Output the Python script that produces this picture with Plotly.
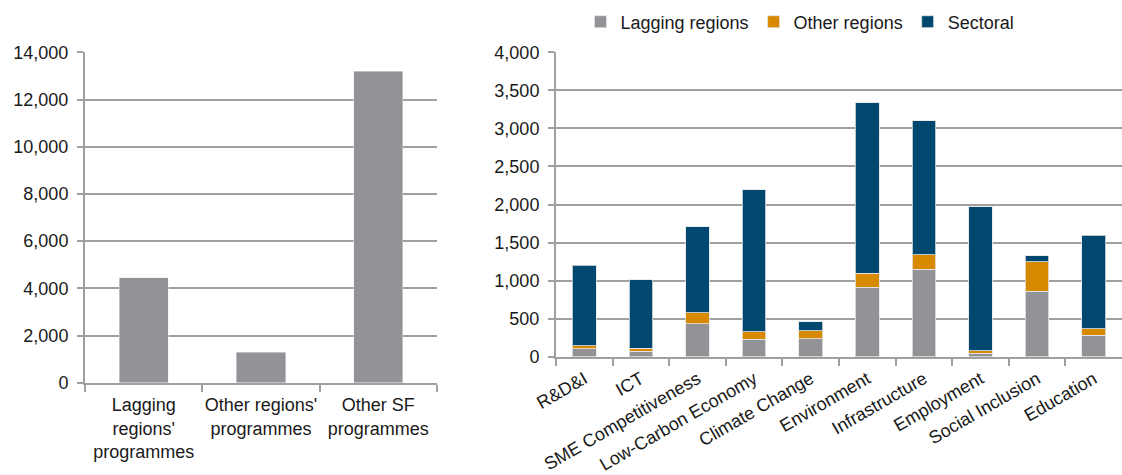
import plotly.graph_objects as go

# Left chart data
left_categories = ["Lagging<br>regions'<br>programmes", "Other regions'<br>programmes", "Other SF<br>programmes"]
left_values = [4450, 1300, 13200]

# Right chart data
right_categories = ["R&D&I", "ICT", "SME Competitiveness", "Low-Carbon Economy", "Climate Change",
                    "Environment", "Infrastructure", "Employment", "Social Inclusion", "Education"]
lagging = [105, 70, 431, 229, 233, 914, 1152, 44, 862, 281]
other_regions = [40, 44, 145, 96, 105, 185, 189, 31, 386, 84]
sectoral = [1055, 896, 1134, 1868, 119, 2239, 1760, 1894, 79, 1231]

GRAY = "#939397"
ORANGE = "#D78A00"
NAVY = "#004870"
GRID = "#A0A0A0"
FONT = dict(family="Liberation Sans, Arial, sans-serif", size=18, color="#1a1a1a")

fig = go.Figure()

fig.add_trace(go.Bar(x=left_categories, y=left_values, marker_color=GRAY, showlegend=False,
                     xaxis="x", yaxis="y"))

line = dict(color="rgba(230,230,230,0.8)", width=1)
fig.add_trace(go.Bar(x=right_categories, y=lagging, name="Lagging regions", marker=dict(color=GRAY, line=line),
                     xaxis="x2", yaxis="y2"))
fig.add_trace(go.Bar(x=right_categories, y=other_regions, name="Other regions", marker=dict(color=ORANGE, line=line),
                     xaxis="x2", yaxis="y2"))
fig.add_trace(go.Bar(x=right_categories, y=sectoral, name="Sectoral", marker=dict(color=NAVY, line=line),
                     xaxis="x2", yaxis="y2"))

axis_common_y = dict(showgrid=True, gridcolor=GRID, gridwidth=2, showline=True, linecolor=GRID, linewidth=2,
                     ticks="outside", ticklen=6, tickcolor=GRID, tickwidth=2, tickformat=",",
                     tickfont=FONT, zeroline=False, automargin=False, ticklabelstandoff=5)
axis_common_x = dict(showline=True, linecolor=GRID, linewidth=2, ticks="outside", tickson="boundaries",
                     ticklen=7, tickcolor=GRID, tickwidth=2, tickfont=FONT, showgrid=False, automargin=False)

fig.update_layout(
    width=1122, height=475,
    margin=dict(l=0, r=0, t=0, b=0, autoexpand=False),
    paper_bgcolor="white", plot_bgcolor="white",
    barmode="stack",
    bargap=0.58,
    font=FONT,
    xaxis=dict(domain=[85/1122, 437/1122], anchor="y", tickangle=0, ticklabelstandoff=5, **axis_common_x),
    yaxis=dict(domain=[1-382.7/475, 1-52.3/475], anchor="x", range=[0, 14000], dtick=2000, **axis_common_y),
    xaxis2=dict(domain=[556/1122, 1.0], anchor="y2", tickangle=-30, ticklabelstandoff=3, ticklabelshift=0,
                **axis_common_x),
    yaxis2=dict(domain=[1-356.7/475, 1-52.3/475], anchor="x2", range=[0, 4000], dtick=500, **axis_common_y),
    legend=dict(orientation="h", x=0.713, xanchor="center", y=1-22/475, yanchor="middle",
                font=FONT, itemwidth=30, traceorder="normal", bgcolor="rgba(0,0,0,0)"),
)

fig.write_html("out.html", config={"displayModeBar": False},
               post_script="document.body.style.margin='0';document.body.style.overflow='hidden';")
